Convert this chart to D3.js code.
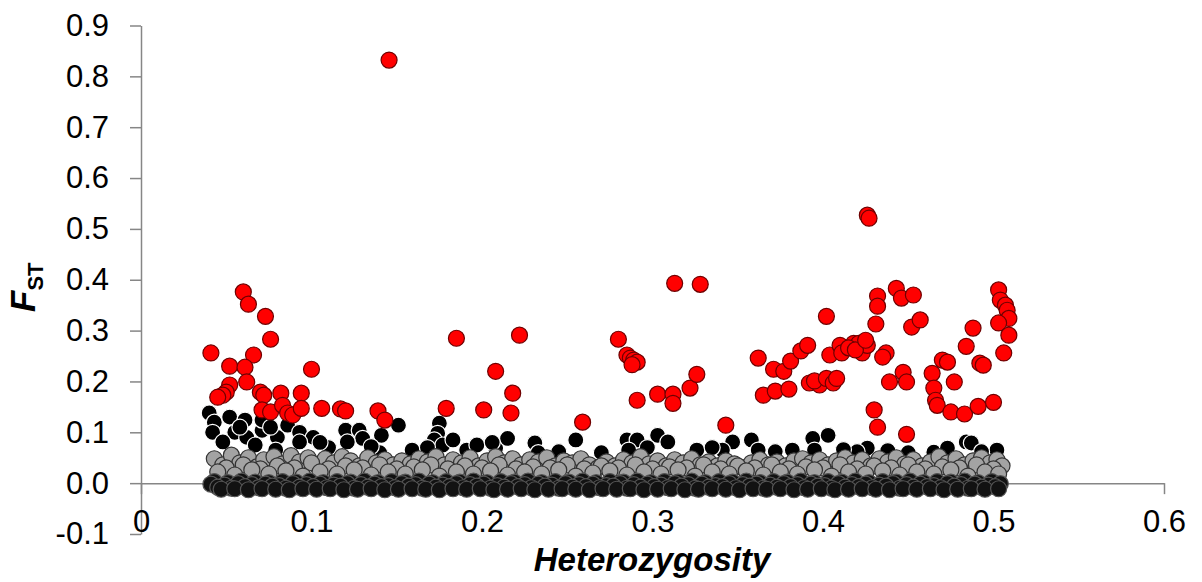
<!DOCTYPE html>
<html>
  <head>
    <meta charset="utf-8">
    <script src="https://d3js.org/d3.v7.min.js"></script>
    <style>
      body { margin: 0; background: #fff; }
      svg { display: block; background: #fff; font-family: "Liberation Sans", Arial, sans-serif; }
      .axis path, .axis line { stroke: #868686; stroke-width: 1.5; }
      .axis text { font-size: 31px; fill: #000; font-family: "Liberation Sans", Arial, sans-serif; }
    </style>
  </head>
  <body>
    <script>
      // tick values
      const xTicks = [0, 0.1, 0.2, 0.3, 0.4, 0.5, 0.6]
      const yTicks = [-0.1, 0, 0.1, 0.2, 0.3, 0.4, 0.5, 0.6, 0.7, 0.8, 0.9]

      // outlier loci (red), [heterozygosity, Fst]
      const outliers = [
        [0.1455,0.832],[0.426,0.527],[0.427,0.521],
        [0.060,0.376],[0.063,0.352],[0.073,0.328],[0.076,0.283],[0.041,0.256],[0.066,0.252],
        [0.052,0.230],[0.061,0.228],[0.062,0.199],[0.052,0.193],[0.050,0.179],[0.048,0.173],
        [0.045,0.169],[0.070,0.179],[0.072,0.173],[0.071,0.144],[0.076,0.140],[0.082,0.177],
        [0.083,0.153],[0.086,0.138],[0.089,0.134],[0.094,0.177],[0.094,0.147],[0.106,0.147],
        [0.117,0.146],[0.120,0.142],[0.139,0.142],[0.143,0.124],[0.100,0.224],
        [0.185,0.285],[0.179,0.147],[0.201,0.144],[0.208,0.220],[0.222,0.291],[0.218,0.177],
        [0.217,0.138],[0.259,0.120],[0.280,0.283],[0.285,0.252],[0.287,0.246],[0.289,0.242],
        [0.291,0.238],[0.288,0.233],[0.291,0.163],[0.303,0.175],[0.312,0.175],[0.312,0.157],
        [0.322,0.187],[0.313,0.393],[0.328,0.391],[0.326,0.214],[0.343,0.114],
        [0.362,0.246],[0.365,0.173],[0.372,0.181],[0.371,0.224],[0.377,0.220],[0.380,0.185],
        [0.381,0.240],[0.387,0.260],[0.391,0.271],[0.392,0.197],[0.398,0.193],[0.395,0.201],
        [0.402,0.328],[0.402,0.206],[0.406,0.197],[0.408,0.206],[0.404,0.252],[0.410,0.271],
        [0.411,0.256],[0.418,0.275],[0.421,0.275],[0.415,0.266],[0.423,0.256],[0.426,0.271],
        [0.419,0.262],[0.425,0.281],[0.432,0.368],[0.432,0.348],[0.431,0.313],[0.437,0.256],
        [0.435,0.248],[0.439,0.199],[0.430,0.144],[0.432,0.110],[0.443,0.383],[0.446,0.364],
        [0.453,0.370],[0.452,0.307],[0.457,0.321],[0.447,0.218],[0.449,0.199],[0.449,0.096],
        [0.464,0.216],[0.465,0.187],[0.466,0.163],[0.467,0.153],[0.470,0.242],[0.473,0.238],
        [0.475,0.140],[0.477,0.199],[0.483,0.136],[0.484,0.269],[0.488,0.305],[0.491,0.151],
        [0.492,0.236],[0.494,0.232],[0.500,0.159],[0.503,0.380],[0.504,0.360],[0.507,0.350],
        [0.508,0.340],[0.509,0.324],[0.503,0.315],[0.509,0.291],[0.506,0.256]
      ]

      // loci above the neutral band (black)
      const highLoci = [
        [0.040,0.138],[0.043,0.120],[0.042,0.100],[0.052,0.130],[0.055,0.100],[0.061,0.124],
        [0.062,0.090],[0.071,0.104],[0.071,0.124],[0.080,0.090],[0.086,0.114],[0.093,0.100],
        [0.101,0.090],[0.093,0.081],[0.120,0.104],[0.128,0.104],[0.130,0.088],[0.121,0.081],
        [0.141,0.094],[0.151,0.114],[0.159,0.065],[0.048,0.081],[0.067,0.075],[0.079,0.065],
        [0.175,0.118],[0.174,0.098],[0.172,0.085],[0.177,0.075],[0.183,0.085],[0.191,0.065],
        [0.197,0.075],[0.208,0.069],[0.215,0.088],[0.231,0.079],[0.255,0.085],[0.285,0.085],
        [0.291,0.085],[0.286,0.065],[0.303,0.094],[0.309,0.081],[0.326,0.065],[0.347,0.081],
        [0.358,0.085],[0.362,0.065],[0.341,0.065],[0.382,0.065],[0.394,0.088],[0.403,0.094],
        [0.395,0.065],[0.426,0.069],[0.465,0.061],[0.473,0.069],[0.484,0.081],[0.487,0.079],
        [0.502,0.065],[0.110,0.070],[0.140,0.060],[0.245,0.062],[0.270,0.060],[0.420,0.062],
        [0.450,0.060],[0.233,0.060],[0.058,0.110],[0.076,0.110],[0.105,0.080],[0.135,0.072],
        [0.168,0.070],[0.206,0.080],[0.297,0.070],[0.335,0.070],[0.372,0.062],[0.412,0.066],
        [0.438,0.064],[0.493,0.062]
      ]

      // neutral loci (grey)
      const neutral = [
        [.043,.048],[.048,.036],[.053,.055],[.058,.040],[.063,.050],[.068,.032],[.072,.046],
        [.078,.052],[.083,.038],[.088,.054],[.093,.042],[.098,.050],[.103,.036],[.108,.048],
        [.113,.040],[.118,.052],[.123,.044],[.128,.034],[.133,.050],[.138,.040],[.143,.046],
        [.148,.036],[.153,.044],[.158,.038],[.163,.048],[.168,.042],[.173,.052],[.178,.036],
        [.183,.046],[.188,.040],[.193,.050],[.198,.034],[.203,.044],[.208,.052],[.213,.040],
        [.218,.048],[.223,.036],[.228,.046],[.233,.042],[.238,.050],[.243,.034],[.248,.044],
        [.253,.040],[.258,.048],[.263,.036],[.268,.030],[.273,.042],[.278,.034],[.283,.046],
        [.288,.040],[.293,.052],[.298,.038],[.303,.044],[.308,.034],[.313,.046],[.318,.040],
        [.323,.048],[.328,.036],[.333,.042],[.338,.034],[.343,.044],[.348,.038],[.353,.030],
        [.358,.040],[.363,.046],[.368,.036],[.373,.042],[.378,.034],[.383,.044],[.388,.048],
        [.393,.040],[.398,.046],[.403,.036],[.408,.044],[.413,.050],[.418,.040],[.423,.046],
        [.428,.034],[.433,.048],[.438,.042],[.443,.050],[.448,.038],[.453,.046],[.458,.034],
        [.463,.042],[.468,.052],[.473,.040],[.478,.048],[.483,.036],[.488,.044],[.493,.050],
        [.498,.040],[.502,.046],[.505,.034],
        [.050,.030],[.060,.036],[.070,.028],[.080,.034],[.090,.030],[.100,.040],[.110,.028],
        [.120,.034],[.130,.030],[.140,.036],[.150,.028],[.160,.032],[.170,.036],[.180,.028],
        [.190,.034],[.200,.030],[.210,.036],[.220,.028],[.230,.032],[.240,.030],[.250,.036],
        [.260,.028],[.270,.034],[.280,.030],[.290,.036],[.300,.028],[.310,.032],[.320,.030],
        [.330,.036],[.340,.028],[.350,.034],[.360,.030],[.370,.036],[.380,.028],[.390,.032],
        [.400,.030],[.410,.036],[.420,.028],[.430,.034],[.440,.030],[.450,.036],[.460,.028],
        [.470,.032],[.480,.030],[.490,.036],[.500,.028],
        [.045,.022],[.055,.016],[.065,.026],[.075,.018],[.085,.024],[.095,.014],[.105,.022],
        [.115,.018],[.125,.026],[.135,.016],[.145,.022],[.155,.018],[.165,.026],[.175,.014],
        [.185,.022],[.195,.018],[.205,.024],[.215,.016],[.225,.022],[.235,.018],[.245,.026],
        [.255,.014],[.265,.020],[.275,.024],[.285,.016],[.295,.022],[.305,.018],[.315,.026],
        [.325,.014],[.335,.022],[.345,.018],[.355,.024],[.365,.016],[.375,.022],[.385,.018],
        [.395,.026],[.405,.014],[.415,.022],[.425,.018],[.435,.024],[.445,.016],[.455,.022],
        [.465,.018],[.475,.026],[.485,.014],[.495,.022],[.503,.018]
      ]

      // loci at Fst ~ 0 (dark band)
      const lowLoci = [
        [.043,.003],[.051,.001],[.059,.004],[.067,.002],[.075,.001],[.083,.003],[.091,.002],
        [.099,.004],[.107,.001],[.115,.003],[.123,.002],[.131,.004],[.139,.001],[.147,.003],
        [.155,.002],[.163,.004],[.171,.001],[.179,.003],[.187,.002],[.195,.004],[.203,.001],
        [.211,.003],[.219,.002],[.227,.004],[.235,.001],[.243,.003],[.251,.002],[.259,.004],
        [.267,.001],[.275,.003],[.283,.002],[.291,.004],[.299,.001],[.307,.003],[.315,.002],
        [.323,.004],[.331,.001],[.339,.003],[.347,.002],[.355,.004],[.363,.001],[.371,.003],
        [.379,.002],[.387,.004],[.395,.001],[.403,.003],[.411,.002],[.419,.004],[.427,.001],
        [.435,.003],[.443,.002],[.451,.004],[.459,.001],[.467,.003],[.475,.002],[.483,.004],
        [.491,.001],[.499,.003],
        [.041,-.002],[.049,-.004],[.057,-.001],[.065,-.003],[.073,-.002],[.081,-.005],[.089,-.001],
        [.097,-.003],[.105,-.002],[.113,-.004],[.121,-.001],[.129,-.003],[.137,-.002],[.145,-.005],
        [.153,-.001],[.161,-.003],[.169,-.002],[.177,-.004],[.185,-.001],[.193,-.003],[.201,-.002],
        [.209,-.005],[.217,-.001],[.225,-.003],[.233,-.002],[.241,-.004],[.249,-.001],[.257,-.003],
        [.265,-.002],[.273,-.005],[.281,-.001],[.289,-.003],[.297,-.002],[.305,-.004],[.313,-.001],
        [.321,-.003],[.329,-.002],[.337,-.005],[.345,-.001],[.353,-.003],[.361,-.002],[.369,-.004],
        [.377,-.001],[.385,-.003],[.393,-.002],[.401,-.005],[.409,-.001],[.417,-.003],[.425,-.002],
        [.433,-.004],[.441,-.001],[.449,-.003],[.457,-.002],[.465,-.005],[.473,-.001],[.481,-.003],
        [.489,-.002],[.497,-.004],[.504,-.001],
        [.045,-.008],[.053,-.010],[.061,-.007],[.069,-.009],[.077,-.006],[.085,-.010],[.093,-.008],
        [.101,-.007],[.109,-.009],[.117,-.006],[.125,-.010],[.133,-.008],[.141,-.007],[.149,-.009],
        [.157,-.006],[.165,-.010],[.173,-.008],[.181,-.007],[.189,-.009],[.197,-.006],[.205,-.010],
        [.213,-.008],[.221,-.007],[.229,-.009],[.237,-.006],[.245,-.010],[.253,-.008],[.261,-.007],
        [.269,-.009],[.277,-.006],[.285,-.010],[.293,-.008],[.301,-.007],[.309,-.009],[.317,-.006],
        [.325,-.010],[.333,-.008],[.341,-.007],[.349,-.009],[.357,-.006],[.365,-.010],[.373,-.008],
        [.381,-.007],[.389,-.009],[.397,-.006],[.405,-.010],[.413,-.008],[.421,-.007],[.429,-.009],
        [.437,-.006],[.445,-.010],[.453,-.008],[.461,-.007],[.469,-.009],[.477,-.006],[.485,-.010],
        [.493,-.008],[.501,-.007],
        [.047,-.012],[.055,-.011],[.063,-.013],[.071,-.011],[.079,-.012],[.087,-.013],[.095,-.011],
        [.103,-.012],[.111,-.011],[.119,-.013],[.127,-.012],[.135,-.011],[.143,-.013],[.151,-.012],
        [.159,-.011],[.167,-.012],[.175,-.013],[.183,-.011],[.191,-.012],[.199,-.011],[.207,-.013],
        [.215,-.012],[.223,-.011],[.231,-.013],[.239,-.012],[.247,-.011],[.255,-.012],[.263,-.013],
        [.271,-.011],[.279,-.012],[.287,-.011],[.295,-.013],[.303,-.012],[.311,-.011],[.319,-.013],
        [.327,-.012],[.335,-.011],[.343,-.012],[.351,-.013],[.359,-.011],[.367,-.012],[.375,-.011],
        [.383,-.013],[.391,-.012],[.399,-.011],[.407,-.013],[.415,-.012],[.423,-.011],[.431,-.012],
        [.439,-.013],[.447,-.011],[.455,-.012],[.463,-.011],[.471,-.013],[.479,-.012],[.487,-.011],
        [.495,-.012],[.503,-.011]
      ]

      const w = 1202
      const h = 582

      const svg = d3.select("body")
        .append("svg")
          .attr("width", w)
          .attr("height", h)

      const xScale = d3.scaleLinear()
        .domain([0, 0.6])
        .range([141, 1164])
      const yScale = d3.scaleLinear()
        .domain([-0.1, 0.9])
        .range([534, 25.5])

      // plain hyphen for negatives, like the original
      const fmt = (d) => d3.format(".1f")(d).replace("\u2212", "-")

      // y axis
      svg.append("g")
        .attr("class", "axis")
        .attr("transform", "translate(" + xScale(0) + ",0)")
        .call(d3.axisLeft(yScale).tickValues(yTicks).tickFormat(fmt)
          .tickSize(11).tickSizeOuter(0).tickPadding(21))

      // x axis crosses at Fst = 0, labels sit low
      svg.append("g")
        .attr("class", "axis")
        .attr("transform", "translate(0," + yScale(0) + ")")
        .call(d3.axisBottom(xScale).tickValues(xTicks)
          .tickFormat((d) => d === 0 ? "0" : fmt(d))
          .tickSize(11).tickSizeOuter(0).tickPadding(16))

      const drawDots = function(data, fill, stroke, r) {
        svg.append("g")
          .selectAll("circle")
          .data(data)
          .enter()
          .append("circle")
            .attr("cx", (d) => xScale(d[0]))
            .attr("cy", (d) => yScale(d[1]))
            .attr("r", r)
            .attr("fill", fill)
            .attr("stroke", stroke)
            .attr("stroke-width", 1.2)
      }

      drawDots(highLoci, "#000000", "#ffffff", 8)
      drawDots(neutral, "#a3a3a3", "#333333", 8)
      drawDots(lowLoci, "#121212", "#555555", 8)
      drawDots(outliers, "#ff0000", "#6e0000", 8)

      // axis titles
      svg.append("text")
        .attr("x", 652)
        .attr("y", 571)
        .attr("text-anchor", "middle")
        .style("font-size", "33px")
        .style("font-weight", "bold")
        .style("font-style", "italic")
        .text("Heterozygosity")

      const yTitle = svg.append("text")
        .attr("transform", "translate(35,312) rotate(-90)")
        .style("font-weight", "bold")
      yTitle.append("tspan")
        .style("font-size", "35px")
        .style("font-style", "italic")
        .text("F")
      yTitle.append("tspan")
        .attr("dy", 8)
        .style("font-size", "22px")
        .text("ST")
    </script>
  </body>
</html>
